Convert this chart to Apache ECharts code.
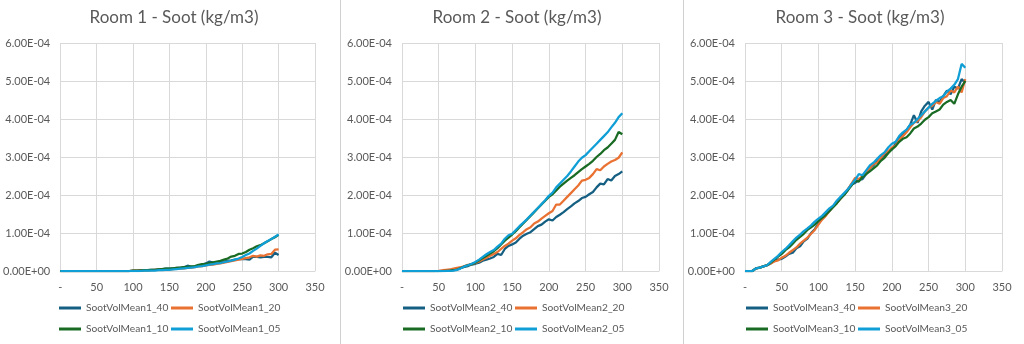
<!DOCTYPE html>
<html>
<head>
<meta charset="utf-8">
<script src="https://cdn.jsdelivr.net/npm/echarts@6/dist/echarts.min.js"></script>
<style>
  html, body { margin: 0; padding: 0; background: #ffffff; }
  #chart { width: 1024px; height: 344px; }
</style>
</head>
<body>
<div id="chart"></div>
<script>
// Simulation time (s)
const time = [0,5,10,15,20,25,30,35,40,45,50,55,60,65,70,75,80,85,90,95,100,105,110,115,120,125,130,135,140,145,150,155,160,165,170,175,180,185,190,195,200,205,210,215,220,225,230,235,240,245,250,255,260,265,270,275,280,285,290,295,300];

// Mean soot volume concentration, in units of 1e-4 kg/m3
const room1_40 = [0,0,0,0,0,0,0,0,0,0,0,0,0,0,0,0,0,0,0,0,
  0.01,0.01,0.02,0.02,0.02,0.03,0.03,0.04,0.05,0.06,0.06,0.07,0.08,0.08,0.10,0.14,0.11,0.12,0.14,0.17,
  0.20,0.25,0.22,0.23,0.24,0.25,0.27,0.28,0.30,0.31,0.32,0.31,0.30,0.38,0.37,0.36,0.37,0.37,0.36,0.48,0.42];
const room1_20 = [0,0,0,0,0,0,0,0,0,0,0,0,0,0,0,0,0,0,0,0,
  0.01,0.01,0.01,0.02,0.02,0.02,0.03,0.03,0.03,0.04,0.04,0.05,0.06,0.06,0.07,0.08,0.09,0.10,0.12,0.13,
  0.15,0.16,0.17,0.19,0.20,0.22,0.24,0.26,0.28,0.30,0.32,0.34,0.36,0.40,0.38,0.41,0.40,0.44,0.45,0.56,0.57];
const room1_10 = [0,0,0,0,0,0,0,0,0,0,0,0,0,0,0,0,0,0,0,0,
  0.01,0.01,0.01,0.02,0.02,0.03,0.03,0.04,0.05,0.06,0.06,0.07,0.08,0.09,0.10,0.11,0.12,0.13,0.16,0.18,
  0.19,0.21,0.23,0.25,0.27,0.30,0.33,0.38,0.40,0.45,0.46,0.50,0.56,0.60,0.65,0.68,0.73,0.78,0.84,0.89,0.95];
const room1_05 = [0,0,0,0,0,0,0,0,0,0,0,0,0,0,0,0,0,0,0,0,
  0,0,0,0.01,0.01,0.01,0.01,0.02,0.02,0.03,0.03,0.04,0.05,0.06,0.07,0.08,0.09,0.10,0.12,0.13,
  0.15,0.17,0.18,0.20,0.21,0.23,0.25,0.27,0.30,0.33,0.37,0.42,0.46,0.53,0.59,0.66,0.73,0.79,0.84,0.90,0.96];

const room2_40 = [0,0,0,0,0,0,0,0,0,0,0,
  0.005,0.01,0.02,0.03,0.05,0.08,0.11,0.13,0.17,0.19,0.22,0.27,0.30,0.33,0.37,0.45,0.42,0.58,0.66,0.70,
  0.75,0.85,0.93,0.98,1.02,1.10,1.18,1.22,1.30,1.36,1.33,1.42,1.48,1.55,1.63,1.70,1.78,1.84,1.92,1.95,
  2.02,2.08,2.20,2.30,2.28,2.42,2.38,2.50,2.55,2.62];
const room2_20 = [0,0,0,0,0,0,0,0,0,0,
  0.005,0.02,0.03,0.04,0.06,0.08,0.10,0.13,0.16,0.18,0.21,0.25,0.30,0.35,0.40,0.45,0.50,0.58,0.66,0.72,0.80,
  0.86,0.95,1.02,1.10,1.15,1.25,1.30,1.38,1.45,1.52,1.58,1.75,1.75,1.85,1.95,2.05,2.15,2.25,2.38,2.40,
  2.45,2.55,2.68,2.65,2.75,2.82,2.88,2.92,2.98,3.12];
const room2_10 = [0,0,0,0,0,0,0,0,0,0,0,0,
  0.005,0.01,0.02,0.04,0.08,0.12,0.15,0.18,0.22,0.28,0.34,0.40,0.46,0.52,0.60,0.70,0.80,0.88,0.96,
  1.05,1.15,1.25,1.35,1.45,1.55,1.65,1.75,1.85,1.95,2.02,2.12,2.22,2.30,2.38,2.45,2.52,2.60,2.68,2.75,
  2.82,2.90,3.00,3.08,3.18,3.25,3.35,3.45,3.66,3.60];
const room2_05 = [0,0,0,0,0,0,0,0,0,0,0,0,
  0,0.005,0.01,0.03,0.07,0.12,0.15,0.19,0.24,0.30,0.37,0.44,0.50,0.55,0.64,0.72,0.85,0.94,0.98,
  1.08,1.18,1.27,1.36,1.46,1.56,1.66,1.76,1.86,1.98,2.06,2.20,2.30,2.40,2.50,2.62,2.75,2.88,2.98,3.05,
  3.15,3.25,3.35,3.45,3.55,3.65,3.78,3.90,4.05,4.15];

const room3_40 = [0,0,0,0.07,0.09,0.12,0.15,0.20,0.27,0.30,0.32,
  0.38,0.45,0.48,0.60,0.65,0.78,0.85,1.00,1.10,1.25,
  1.38,1.50,1.58,1.70,1.80,1.92,2.00,2.15,2.28,2.32,
  2.40,2.42,2.55,2.70,2.78,2.90,2.95,3.05,3.15,3.20,
  3.35,3.50,3.62,3.70,3.85,4.10,3.90,4.20,4.35,4.45,
  4.25,4.50,4.45,4.60,4.75,4.65,4.85,4.80,5.05,4.95];
const room3_20 = [0,0,0,0.07,0.09,0.12,0.15,0.20,0.25,0.28,0.35,
  0.40,0.48,0.55,0.62,0.72,0.80,0.88,0.98,1.08,1.22,
  1.35,1.45,1.58,1.70,1.80,1.90,2.02,2.15,2.30,2.45,
  2.42,2.50,2.62,2.70,2.82,2.85,2.98,3.10,3.15,3.25,
  3.30,3.45,3.55,3.65,3.78,3.90,3.95,4.05,4.20,4.30,
  4.35,4.45,4.40,4.55,4.60,4.75,4.70,4.85,4.70,5.05];
const room3_10 = [0,0,0,0.07,0.09,0.12,0.15,0.22,0.30,0.38,0.45,
  0.55,0.62,0.72,0.82,0.90,0.98,1.08,1.15,1.22,1.32,
  1.40,1.48,1.58,1.68,1.78,1.90,2.00,2.12,2.25,2.38,
  2.35,2.48,2.55,2.62,2.70,2.78,2.90,2.98,3.10,3.20,
  3.28,3.40,3.48,3.52,3.62,3.75,3.80,3.88,3.98,4.05,
  4.15,4.20,4.25,4.38,4.45,4.50,4.40,4.65,4.85,5.00];
const room3_05 = [0,0,0,0.07,0.09,0.12,0.15,0.24,0.32,0.40,0.50,
  0.58,0.68,0.78,0.88,0.96,1.05,1.12,1.20,1.30,1.38,
  1.45,1.55,1.65,1.72,1.85,1.95,2.05,2.15,2.28,2.40,
  2.55,2.52,2.65,2.78,2.85,2.95,3.05,3.12,3.25,3.35,
  3.40,3.55,3.65,3.72,3.85,3.90,4.00,4.10,4.20,4.30,
  4.40,4.48,4.55,4.60,4.72,4.80,4.90,5.05,5.45,5.35];

const UNIT = 1e-4;
const xTicks = { min: 0, max: 350, interval: 50 };
const yTicks = { min: 0, max: 6e-4, interval: 1e-4 };

const roomTitles = ['Room 1 - Soot (kg/m3)', 'Room 2 - Soot (kg/m3)', 'Room 3 - Soot (kg/m3)'];
const suffixes = ['40', '20', '10', '05'];
const roomData = [
  [room1_40, room1_20, room1_10, room1_05],
  [room2_40, room2_20, room2_10, room2_05],
  [room3_40, room3_20, room3_10, room3_05]
];
const colors = ['#156082', '#E97132', '#196B24', '#0F9ED5'];

const FONT = 'Lato, "Noto Sans", sans-serif';
const TEXT = '#595959';
const GRIDLINE = '#d9d9d9';

// Panel geometry (px)
const panels = [
  { left: 58,  titleX: 169 },
  { left: 402, titleX: 512 },
  { left: 745, titleX: 855 }
];
const PLOT_W = 257, PLOT_TOP = 43, PLOT_H = 228;
// Legend entries: 2 x 2 layout, offsets from the plot's left edge
const legendSlots = [
  { dx: 1, top: 303 }, { dx: 113, top: 303 },
  { dx: 1, top: 324 }, { dx: 113, top: 324 }
];

function sciLabel(v) {
  const parts = v.toExponential(2).split('e');
  const e = parseInt(parts[1], 10);
  return parts[0] + 'E' + (e < 0 ? '-' : '+') + String(Math.abs(e)).padStart(2, '0');
}

const option = {
  animation: false,
  backgroundColor: '#ffffff',
  color: colors,
  title: [],
  legend: [],
  grid: [],
  xAxis: [],
  yAxis: [],
  series: [],
  graphic: [
    { type: 'line', shape: { x1: 340.5, y1: 0, x2: 340.5, y2: 344 }, style: { stroke: '#d0d0d0', lineWidth: 1 } },
    { type: 'line', shape: { x1: 683.5, y1: 0, x2: 683.5, y2: 344 }, style: { stroke: '#d0d0d0', lineWidth: 1 } }
  ]
};

panels.forEach((p, i) => {
  option.title.push({
    text: roomTitles[i],
    left: p.titleX, top: 4, textAlign: 'center',
    textStyle: { fontFamily: FONT, fontSize: 17, fontWeight: 'normal', color: TEXT }
  });
  option.grid.push({ left: p.left, top: PLOT_TOP, width: PLOT_W, height: PLOT_H });
  option.xAxis.push({
    type: 'value', gridIndex: i, min: xTicks.min, max: xTicks.max, interval: xTicks.interval,
    axisLine: { show: true, lineStyle: { color: GRIDLINE } },
    axisTick: { show: false },
    splitLine: { show: true, lineStyle: { color: GRIDLINE, width: 1 } },
    axisLabel: {
      color: TEXT, fontFamily: FONT, fontSize: 11, margin: 11,
      formatter: v => (v === 0 ? '-' : String(v))
    }
  });
  option.yAxis.push({
    type: 'value', gridIndex: i, min: yTicks.min, max: yTicks.max, interval: yTicks.interval,
    axisLine: { show: false }, axisTick: { show: false },
    splitLine: { show: true, lineStyle: { color: GRIDLINE, width: 1 } },
    axisLabel: { color: TEXT, fontFamily: FONT, fontSize: 11, margin: 10, formatter: sciLabel }
  });
  const names = suffixes.map(s => 'SootVolMean' + (i + 1) + '_' + s);
  roomData[i].forEach((arr, k) => {
    option.series.push({
      name: names[k], type: 'line', xAxisIndex: i, yAxisIndex: i,
      showSymbol: false, symbol: 'none',
      lineStyle: { width: 2.25, color: colors[k] },
      itemStyle: { color: colors[k] },
      data: time.map((t, j) => [t, arr[j] * UNIT])
    });
    option.legend.push({
      orient: 'horizontal', left: p.left + legendSlots[k].dx, top: legendSlots[k].top,
      padding: 0, icon: 'rect', itemWidth: 22, itemHeight: 3,
      textStyle: { color: TEXT, fontFamily: FONT, fontSize: 10.2 },
      data: [names[k]]
    });
  });
});

const chart = echarts.init(document.getElementById('chart'), null, { renderer: 'canvas' });
chart.setOption(option);
</script>
</body>
</html>
